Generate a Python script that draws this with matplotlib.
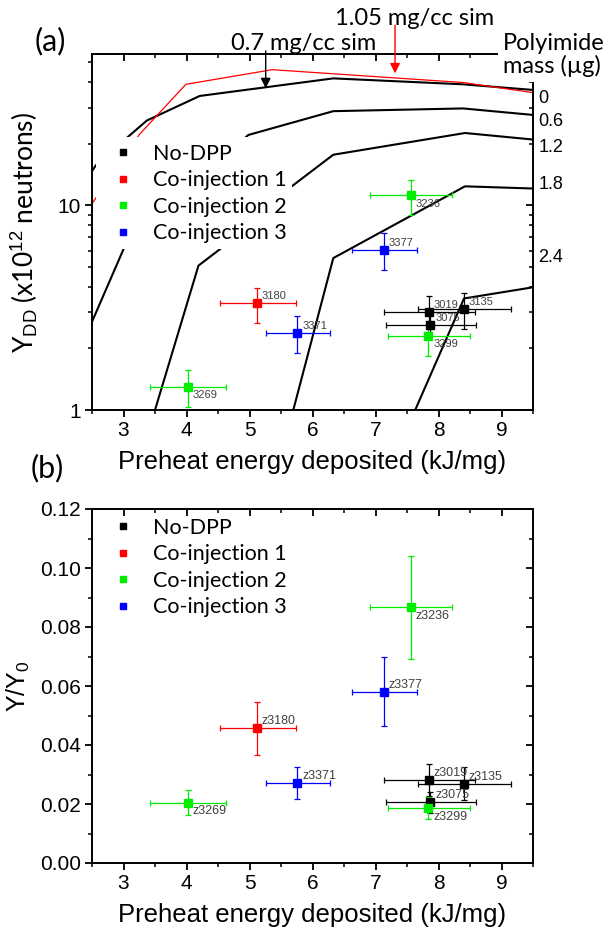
import matplotlib
matplotlib.use("Agg")
import matplotlib.pyplot as plt
import matplotlib.ticker as mticker
import matplotlib.lines as mlines
from matplotlib.lines import Line2D
from matplotlib.patches import Rectangle

# ---------------- data ----------------
series_names = ["No-DPP", "Co-injection 1", "Co-injection 2", "Co-injection 3"]
series_colors = ["#000000", "#ff0000", "#00ee00", "#0000ff"]

shot_ids = [["3019", "3075", "3135"], ["3180"], ["3236", "3269", "3299"], ["3371", "3377"]]
preheat = [[7.85, 7.87, 8.40], [5.12], [7.56, 4.02, 7.84], [5.76, 7.13]]
preheat_lo = [[7.13, 7.17, 7.68], [4.53], [6.92, 3.42, 7.20], [5.26, 6.62]]
preheat_hi = [[8.58, 8.59, 9.15], [5.74], [8.21, 4.63, 8.50], [6.28, 7.66]]

ydd = [[3.03, 2.60, 3.13], [3.32], [11.2, 1.30, 2.30], [2.39, 6.07]]
ydd_lo = [[2.55, 2.30, 2.50], [2.65], [8.96, 1.04, 1.83], [1.90, 4.86]]
ydd_hi = [[3.61, 2.95, 3.73], [3.97], [13.3, 1.56, 2.72], [2.88, 7.30]]

yratio = [[0.0281, 0.0206, 0.0268], [0.0457], [0.0867, 0.0204, 0.0185], [0.0272, 0.0581]]
yratio_lo = [[0.0227, 0.0170, 0.0215], [0.0365], [0.0690, 0.0164, 0.0148], [0.0217, 0.0464]]
yratio_hi = [[0.0335, 0.0242, 0.0324], [0.0547], [0.1040, 0.0247, 0.0225], [0.0326, 0.0699]]

label_side = [["above", "above", "above"], ["above"], ["below", "below", "below"], ["above", "above"]]

# simulation curves (panel a)
sim105_x = [2.5, 3.25, 3.99, 5.36, 8.39, 9.5]
sim105_y = [10.2, 22.2, 39.1, 46.1, 39.9, 35.6]
mass_values = ["0", "0.6", "1.2", "1.8", "2.4"]
mass_x = [
    [2.5, 2.56, 3.09, 3.37, 4.21, 6.33, 8.39, 9.5],
    [2.5, 3.01, 4.98, 6.33, 8.39, 9.5],
    [3.5, 4.19, 4.56, 5.67, 6.33, 8.42, 9.5],
    [5.695, 6.33, 8.42, 9.5],
    [7.63, 8.405, 9.5],
]
mass_y = [
    [14.7, 15.7, 21.9, 26.0, 34.3, 41.8, 39.1, 36.7],
    [2.70, 6.21, 22.1, 28.9, 29.8, 27.7],
    [1.0, 5.08, 6.21, 12.4, 17.7, 22.6, 21.0],
    [1.0, 5.53, 12.4, 12.1],
    [1.0, 3.51, 3.98],
]
mass_label_y = [33.4, 25.6, 19.1, 12.6, 5.54]

xticks = [3, 4, 5, 6, 7, 8, 9]
yticks_b = [0.00, 0.02, 0.04, 0.06, 0.08, 0.10, 0.12]

# ---------------- style ----------------
SANS = ["Liberation Sans", "DejaVu Sans"]
CAL = ["Lato", "DejaVu Sans"]
plt.rcParams["font.family"] = SANS
plt.rcParams["mathtext.fontset"] = "custom"
plt.rcParams["mathtext.rm"] = "Liberation Sans"
plt.rcParams["mathtext.it"] = "Liberation Sans:italic"

W, H = 609, 934
fig = plt.figure(figsize=(W / 100, H / 100), dpi=100)


def px_axes(l, t, r, b):
    return [l / W, 1 - b / H, (r - l) / W, (b - t) / H]


ax1 = fig.add_axes(px_axes(92, 54, 533, 410))
ax2 = fig.add_axes(px_axes(92, 509, 533, 863))

TICK_FS = 15
LAB_FS = 18.5
LEG_FS = 15.5


def base_style(ax):
    for s in ax.spines.values():
        s.set_linewidth(1.4)
    ax.tick_params(axis="both", which="major", length=5, width=1.3, labelsize=TICK_FS, pad=3,
                   direction="out", top=True, right=True, labeltop=False, labelright=False)
    ax.tick_params(axis="both", which="minor", length=3, width=1.1,
                   direction="out", top=True, right=True, labeltop=False, labelright=False)


def flip_far_ticks(ax):
    # bottom/left ticks point out, top/right ticks point in (Origin style)
    for t in ax.xaxis.get_major_ticks() + ax.xaxis.get_minor_ticks():
        t.tick2line.set_marker(mlines.TICKDOWN)
    for t in ax.yaxis.get_major_ticks() + ax.yaxis.get_minor_ticks():
        t.tick2line.set_marker(mlines.TICKLEFT)


def draw_points(ax, ys, ylo, yhi, prefix, fs):
    for k in range(len(series_names)):
        c = series_colors[k]
        for i, sid in enumerate(shot_ids[k]):
            x = preheat[k][i]
            y = ys[k][i]
            ax.errorbar([x], [y],
                        xerr=[[x - preheat_lo[k][i]], [preheat_hi[k][i] - x]],
                        yerr=[[y - ylo[k][i]], [yhi[k][i] - y]],
                        fmt="s", color=c, ecolor=c, elinewidth=0.9, capsize=2.3,
                        capthick=0.9, markersize=5.8, zorder=6)
            dy = 5 if label_side[k][i] == "above" else -6
            ax.annotate(prefix + sid, (x, y), xytext=(3.5, dy), textcoords="offset points",
                        ha="left", va="center", fontsize=fs, color="#404040", zorder=7,
                        family=SANS)


def add_legend(ax, top):
    handles = [Line2D([], [], marker="s", ls="none", color=c, markersize=4.5) for c in series_colors]
    leg = ax.legend(handles, series_names, loc="upper left", bbox_to_anchor=(0.036, top),
                    frameon=False, borderpad=0, borderaxespad=0, handlelength=1.40,
                    handletextpad=0.70, labelspacing=0.30, prop={"family": CAL, "size": LEG_FS})
    leg.set_zorder(8)
    return leg


# ---------------- panel (a) ----------------
ax1.set_yscale("log")
ax1.set_xlim(2.5, 9.5)
ax1.set_ylim(1, 55)
ax1.set_xticks(xticks)
ax1.xaxis.set_minor_locator(mticker.MultipleLocator(0.5))
ax1.yaxis.set_major_locator(mticker.LogLocator(base=10, subs=[1.0]))
ax1.yaxis.set_minor_locator(mticker.LogLocator(base=10, subs=list(range(2, 10))))
ax1.yaxis.set_major_formatter(mticker.FuncFormatter(lambda v, p: f"{v:g}"))
ax1.yaxis.set_minor_formatter(mticker.NullFormatter())
base_style(ax1)

for xs, ys in zip(mass_x, mass_y):
    ax1.plot(xs, ys, color="black", lw=1.5, zorder=2)
ax1.plot(sim105_x, sim105_y, color="#ff0000", lw=0.9, zorder=2.1)

ax1.add_patch(Rectangle((0.009, 0.452), 0.4445, 0.315, transform=ax1.transAxes,
                        facecolor="white", edgecolor="none", zorder=3))

draw_points(ax1, ydd, ydd_lo, ydd_hi, "", 8)
add_legend(ax1, 0.748)

ax1.set_xlabel("Preheat energy deposited (kJ/mg)", fontsize=LAB_FS, labelpad=7)
ax1.set_ylabel(r"Y$_{\mathrm{DD}}$ (x10$^{12}$ neutrons)", fontsize=19, labelpad=12, family=CAL)

for lab, yv in zip(mass_values, mass_label_y):
    ax1.text(1.012, yv, lab, transform=ax1.get_yaxis_transform(), ha="left", va="center",
             fontsize=13, clip_on=False)

# arrows
ax1.annotate("", xy=(5.257, 37.4), xytext=(5.257, 57), xycoords="data",
             arrowprops=dict(arrowstyle="-|>", color="black", lw=1.0, mutation_scale=15,
                             shrinkA=0, shrinkB=0), annotation_clip=False, zorder=9)
ax1.annotate("", xy=(7.31, 44.2), xytext=(7.31, 76), xycoords="data",
             arrowprops=dict(arrowstyle="-|>", color="#ff0000", lw=1.0, mutation_scale=15,
                             shrinkA=0, shrinkB=0), annotation_clip=False, zorder=9)

fig.text(304 / W, 1 - 50 / H, "0.7 mg/cc sim", ha="center", va="baseline", fontsize=17, family=CAL)
fig.text(414.5 / W, 1 - 25 / H, "1.05 mg/cc sim", ha="center", va="baseline", fontsize=17, family=CAL)
fig.text(503 / W, 1 - 73 / H, "Polyimide\nmass (\u00b5g)", ha="left", va="baseline", fontsize=17,
         family=CAL, linespacing=1.05,
         bbox=dict(facecolor="white", edgecolor="none", pad=3.5), zorder=20)
fig.text(50 / W, 1 - 41 / H, "(a)", ha="center", va="center", fontsize=22, family=CAL)

# ---------------- panel (b) ----------------
ax2.set_xlim(2.5, 9.5)
ax2.set_ylim(0, 0.12)
ax2.set_xticks(xticks)
ax2.set_yticks(yticks_b)
ax2.yaxis.set_major_formatter(mticker.FormatStrFormatter("%.2f"))
ax2.xaxis.set_minor_locator(mticker.MultipleLocator(0.5))
ax2.yaxis.set_minor_locator(mticker.MultipleLocator(0.01))
base_style(ax2)

draw_points(ax2, yratio, yratio_lo, yratio_hi, "z", 9)
add_legend(ax2, 0.975)

ax2.set_xlabel("Preheat energy deposited (kJ/mg)", fontsize=LAB_FS, labelpad=7)
ax2.set_ylabel(r"Y/Y$_0$", fontsize=18, labelpad=6)
fig.text(47 / W, 1 - 468 / H, "(b)", ha="center", va="center", fontsize=22, family=CAL)

fig.canvas.draw()
flip_far_ticks(ax1)
flip_far_ticks(ax2)

fig.savefig("out.png", dpi=100)
